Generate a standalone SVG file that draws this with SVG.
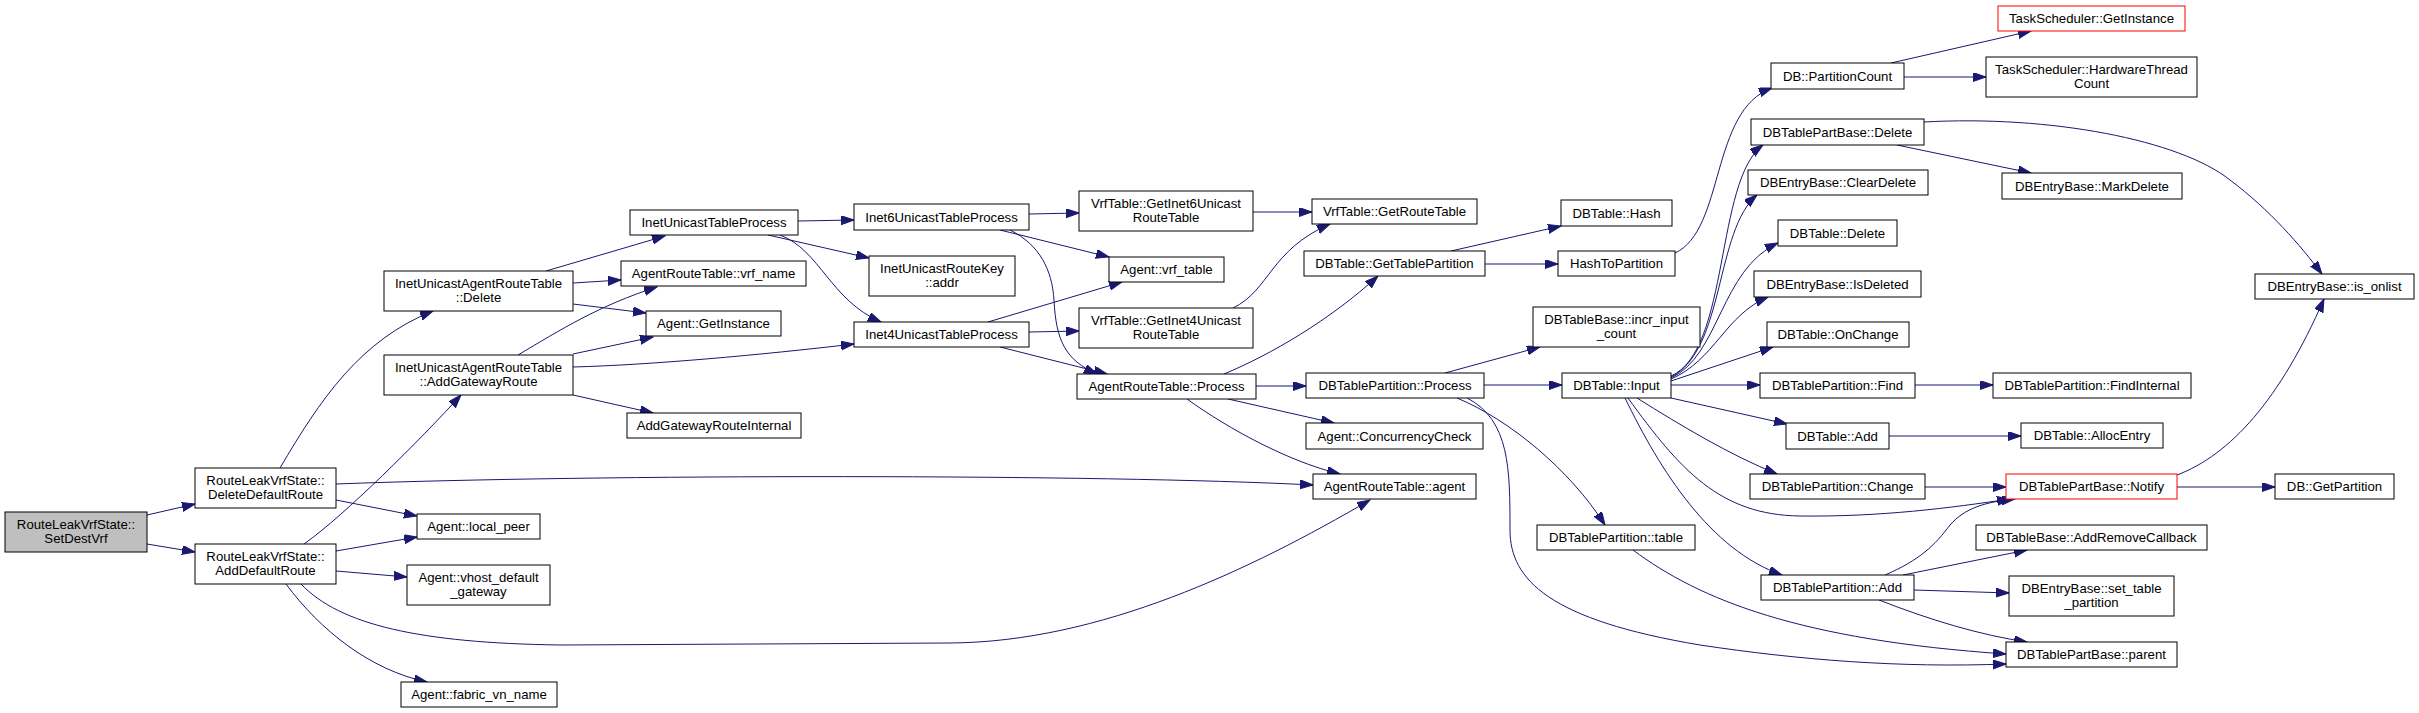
<svg xmlns="http://www.w3.org/2000/svg" width="2419" height="713" viewBox="0 0 2419 713">
<defs>
<marker id="ah" markerUnits="userSpaceOnUse" markerWidth="14" markerHeight="10" refX="13" refY="4.5" orient="auto">
<path d="M0,0 L13,4.5 L0,9 z" fill="#191970" stroke="#191970" stroke-width="1"/>
</marker>
<style>
.n rect{fill:#fff;stroke:#000;stroke-width:1}
.n.cur rect{fill:#bfbfbf}
.n.red rect{stroke:#ff0000}
.n text{font-family:"Liberation Sans",Arial,Helvetica,sans-serif;font-size:13.2px;fill:#000;text-anchor:middle}
#edges path{fill:none;stroke:#191970;stroke-width:1;marker-end:url(#ah)}
</style>
</defs>
<rect width="2419" height="713" fill="#fff"/>
<g id="edges">
<path d="M147,515 L195,504"/>
<path d="M147,544 L195,552"/>
<path d="M280,468 C320,400 360,340 433,311"/>
<path d="M336,484 C600,474 1100,474 1313,485"/>
<path d="M336,500 L417,516"/>
<path d="M304,544 C345,515 420,440 461,395"/>
<path d="M336,551 L417,537"/>
<path d="M336,571 L407,577"/>
<path d="M301,584 C340,625 420,643 560,645 L950,643 C1100,642 1250,570 1370,500"/>
<path d="M286,584 C320,630 370,670 427,682"/>
<path d="M546,271 L665,236"/>
<path d="M573,283 L621,280"/>
<path d="M573,304 L646,313"/>
<path d="M518,355 C560,330 600,305 657,287"/>
<path d="M573,354 L653,337"/>
<path d="M573,367 C650,365 760,355 854,344"/>
<path d="M573,395 L653,413"/>
<path d="M798,221 L854,220"/>
<path d="M768,235 L869,258"/>
<path d="M780,235 C820,250 830,300 881,322"/>
<path d="M1029,214 L1079,213"/>
<path d="M1000,230 L1109,257"/>
<path d="M1010,230 C1040,245 1052,270 1054,300 C1056,340 1065,360 1097,374"/>
<path d="M988,322 L1122,282"/>
<path d="M1029,332 L1079,331"/>
<path d="M1000,347 L1107,374"/>
<path d="M1253,212 L1312,212"/>
<path d="M1233,308 C1270,290 1270,250 1330,224"/>
<path d="M1224,374 C1270,355 1330,320 1378,276"/>
<path d="M1256,386 L1306,386"/>
<path d="M1228,399 L1334,423"/>
<path d="M1187,399 C1230,430 1290,462 1340,474"/>
<path d="M1451,251 L1561,226"/>
<path d="M1485,264 L1558,264"/>
<path d="M1675,253 C1725,230 1710,110 1772,88"/>
<path d="M1891,63 L2031,31"/>
<path d="M1904,77 L1986,77"/>
<path d="M1445,373 L1540,347"/>
<path d="M1484,385 L1562,385"/>
<path d="M1457,398 C1510,420 1570,470 1605,525"/>
<path d="M1467,398 C1510,420 1510,470 1510,530 C1510,580 1550,620 1700,645 C1800,660 1900,668 2006,664"/>
<path d="M1671,376 C1730,350 1715,180 1763,145"/>
<path d="M1671,377 C1725,350 1715,230 1757,195"/>
<path d="M1671,378 C1720,355 1720,270 1778,243"/>
<path d="M1671,379 C1715,360 1725,315 1768,297"/>
<path d="M1671,381 L1773,347"/>
<path d="M1671,385 L1760,385"/>
<path d="M1671,398 L1787,424"/>
<path d="M1637,398 C1680,425 1730,455 1777,474"/>
<path d="M1628,398 C1680,470 1720,515 1800,516 C1880,517 1950,508 2010,499"/>
<path d="M1625,398 C1660,470 1710,550 1782,575"/>
<path d="M1897,145 L2031,173"/>
<path d="M1924,122 C2050,115 2180,140 2230,180 C2270,210 2300,245 2322,274"/>
<path d="M2177,475 C2230,455 2280,400 2324,299"/>
<path d="M2177,487 L2275,487"/>
<path d="M1915,385 L1993,385"/>
<path d="M1889,436 L2021,436"/>
<path d="M1925,487 L2006,487"/>
<path d="M1885,575 C1920,560 1935,545 1950,525 C1965,508 1985,502 2015,499"/>
<path d="M1903,575 L2027,550"/>
<path d="M1914,590 L2009,593"/>
<path d="M1879,600 C1930,620 1980,635 2027,642"/>
<path d="M1633,550 C1700,600 1800,640 2006,654"/>
</g>
<g id="n0" class="n cur"><rect x="5" y="512" width="142" height="40"/><text x="76" y="528.5">RouteLeakVrfState::</text><text x="76" y="542.5">SetDestVrf</text></g>
<g id="n1" class="n"><rect x="195" y="468" width="141" height="40"/><text x="265.5" y="484.5">RouteLeakVrfState::</text><text x="265.5" y="498.5">DeleteDefaultRoute</text></g>
<g id="n2" class="n"><rect x="195" y="544" width="141" height="40"/><text x="265.5" y="560.5">RouteLeakVrfState::</text><text x="265.5" y="574.5">AddDefaultRoute</text></g>
<g id="n3" class="n"><rect x="384" y="271" width="189" height="40"/><text x="478.5" y="287.5">InetUnicastAgentRouteTable</text><text x="478.5" y="301.5">::Delete</text></g>
<g id="n4" class="n"><rect x="384" y="355" width="189" height="40"/><text x="478.5" y="371.5">InetUnicastAgentRouteTable</text><text x="478.5" y="385.5">::AddGatewayRoute</text></g>
<g id="n5" class="n"><rect x="417" y="514" width="123" height="25"/><text x="478.5" y="531">Agent::local_peer</text></g>
<g id="n6" class="n"><rect x="407" y="565" width="143" height="40"/><text x="478.5" y="581.5">Agent::vhost_default</text><text x="478.5" y="595.5">_gateway</text></g>
<g id="n7" class="n"><rect x="401" y="682" width="156" height="25"/><text x="479" y="699">Agent::fabric_vn_name</text></g>
<g id="n8" class="n"><rect x="630" y="210" width="168" height="25"/><text x="714" y="227">InetUnicastTableProcess</text></g>
<g id="n9" class="n"><rect x="621" y="261" width="185" height="25"/><text x="713.5" y="278">AgentRouteTable::vrf_name</text></g>
<g id="n10" class="n"><rect x="646" y="311" width="135" height="25"/><text x="713.5" y="328">Agent::GetInstance</text></g>
<g id="n11" class="n"><rect x="627" y="413" width="174" height="25"/><text x="714" y="430">AddGatewayRouteInternal</text></g>
<g id="n12" class="n"><rect x="854" y="204" width="175" height="26"/><text x="941.5" y="221.5">Inet6UnicastTableProcess</text></g>
<g id="n13" class="n"><rect x="869" y="256" width="146" height="40"/><text x="942" y="272.5">InetUnicastRouteKey</text><text x="942" y="286.5">::addr</text></g>
<g id="n14" class="n"><rect x="854" y="322" width="175" height="25"/><text x="941.5" y="339">Inet4UnicastTableProcess</text></g>
<g id="n15" class="n"><rect x="1079" y="191" width="174" height="40"/><text x="1166" y="207.5">VrfTable::GetInet6Unicast</text><text x="1166" y="221.5">RouteTable</text></g>
<g id="n16" class="n"><rect x="1109" y="257" width="115" height="25"/><text x="1166.5" y="274">Agent::vrf_table</text></g>
<g id="n17" class="n"><rect x="1079" y="308" width="174" height="40"/><text x="1166" y="324.5">VrfTable::GetInet4Unicast</text><text x="1166" y="338.5">RouteTable</text></g>
<g id="n18" class="n"><rect x="1077" y="374" width="179" height="25"/><text x="1166.5" y="391">AgentRouteTable::Process</text></g>
<g id="n19" class="n"><rect x="1312" y="199" width="165" height="25"/><text x="1394.5" y="216">VrfTable::GetRouteTable</text></g>
<g id="n20" class="n"><rect x="1304" y="251" width="181" height="25"/><text x="1394.5" y="268">DBTable::GetTablePartition</text></g>
<g id="n21" class="n"><rect x="1306" y="373" width="178" height="25"/><text x="1395" y="390">DBTablePartition::Process</text></g>
<g id="n22" class="n"><rect x="1306" y="423" width="177" height="26"/><text x="1394.5" y="440.5">Agent::ConcurrencyCheck</text></g>
<g id="n23" class="n"><rect x="1313" y="474" width="163" height="25"/><text x="1394.5" y="491">AgentRouteTable::agent</text></g>
<g id="n24" class="n"><rect x="1561" y="200" width="111" height="26"/><text x="1616.5" y="217.5">DBTable::Hash</text></g>
<g id="n25" class="n"><rect x="1558" y="251" width="117" height="25"/><text x="1616.5" y="268">HashToPartition</text></g>
<g id="n26" class="n"><rect x="1533" y="307" width="167" height="40"/><text x="1616.5" y="323.5">DBTableBase::incr_input</text><text x="1616.5" y="337.5">_count</text></g>
<g id="n27" class="n"><rect x="1562" y="373" width="109" height="25"/><text x="1616.5" y="390">DBTable::Input</text></g>
<g id="n28" class="n"><rect x="1537" y="525" width="158" height="25"/><text x="1616" y="542">DBTablePartition::table</text></g>
<g id="n29" class="n"><rect x="1771" y="63" width="133" height="26"/><text x="1837.5" y="80.5">DB::PartitionCount</text></g>
<g id="n30" class="n"><rect x="1751" y="119" width="173" height="26"/><text x="1837.5" y="136.5">DBTablePartBase::Delete</text></g>
<g id="n31" class="n"><rect x="1748" y="170" width="180" height="25"/><text x="1838" y="187">DBEntryBase::ClearDelete</text></g>
<g id="n32" class="n"><rect x="1778" y="220" width="119" height="26"/><text x="1837.5" y="237.5">DBTable::Delete</text></g>
<g id="n33" class="n"><rect x="1754" y="271" width="167" height="26"/><text x="1837.5" y="288.5">DBEntryBase::IsDeleted</text></g>
<g id="n34" class="n"><rect x="1767" y="322" width="142" height="25"/><text x="1838" y="339">DBTable::OnChange</text></g>
<g id="n35" class="n"><rect x="1760" y="373" width="155" height="25"/><text x="1837.5" y="390">DBTablePartition::Find</text></g>
<g id="n36" class="n"><rect x="1786" y="423" width="103" height="26"/><text x="1837.5" y="440.5">DBTable::Add</text></g>
<g id="n37" class="n"><rect x="1750" y="474" width="175" height="25"/><text x="1837.5" y="491">DBTablePartition::Change</text></g>
<g id="n38" class="n"><rect x="1761" y="575" width="153" height="25"/><text x="1837.5" y="592">DBTablePartition::Add</text></g>
<g id="n39" class="n red"><rect x="1998" y="6" width="187" height="25"/><text x="2091.5" y="23">TaskScheduler::GetInstance</text></g>
<g id="n40" class="n"><rect x="1986" y="57" width="211" height="40"/><text x="2091.5" y="73.5">TaskScheduler::HardwareThread</text><text x="2091.5" y="87.5">Count</text></g>
<g id="n41" class="n"><rect x="2002" y="173" width="180" height="26"/><text x="2092" y="190.5">DBEntryBase::MarkDelete</text></g>
<g id="n42" class="n"><rect x="1993" y="373" width="198" height="25"/><text x="2092" y="390">DBTablePartition::FindInternal</text></g>
<g id="n43" class="n"><rect x="2021" y="423" width="142" height="25"/><text x="2092" y="440">DBTable::AllocEntry</text></g>
<g id="n44" class="n red"><rect x="2006" y="474" width="171" height="25"/><text x="2091.5" y="491">DBTablePartBase::Notify</text></g>
<g id="n45" class="n"><rect x="1976" y="525" width="231" height="25"/><text x="2091.5" y="542">DBTableBase::AddRemoveCallback</text></g>
<g id="n46" class="n"><rect x="2009" y="576" width="165" height="40"/><text x="2091.5" y="592.5">DBEntryBase::set_table</text><text x="2091.5" y="606.5">_partition</text></g>
<g id="n47" class="n"><rect x="2006" y="642" width="171" height="25"/><text x="2091.5" y="659">DBTablePartBase::parent</text></g>
<g id="n48" class="n"><rect x="2255" y="274" width="159" height="25"/><text x="2334.5" y="291">DBEntryBase::is_onlist</text></g>
<g id="n49" class="n"><rect x="2275" y="474" width="119" height="25"/><text x="2334.5" y="491">DB::GetPartition</text></g>
</svg>
